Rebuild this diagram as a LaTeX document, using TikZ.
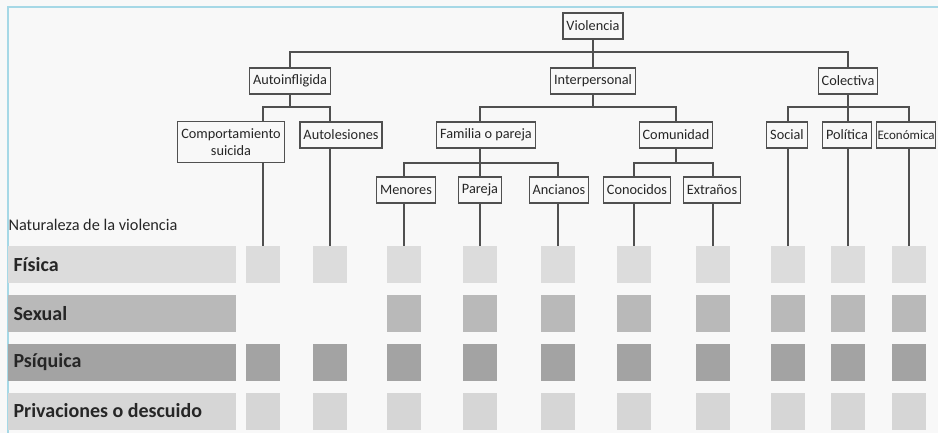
\documentclass[tikz,border=0pt]{standalone}
\usepackage{fontspec}
\setmainfont{Carlito}
\usetikzlibrary{calc}

\definecolor{bgc}{HTML}{F8F8F8}
\definecolor{framec}{HTML}{A6D8E6}
\definecolor{linec}{HTML}{505050}
\definecolor{textc}{HTML}{262626}
\definecolor{fisc}{HTML}{DCDCDC}
\definecolor{sexc}{HTML}{B9B9B9}
\definecolor{psic}{HTML}{A3A3A3}
\definecolor{pric}{HTML}{D6D6D6}

\tikzset{
  tbox/.style={draw=linec, fill=bgc, line width=1.1pt, inner xsep=3.5pt, inner ysep=0pt,
    minimum height=26pt, align=center, text=textc, font=\fontsize{14.3}{16.5}\selectfont},
  conn/.style={draw=linec, line width=1.3pt},
  sq/.style={minimum width=34pt, minimum height=37pt, inner sep=0pt},
  rowbar/.style={minimum width=228pt, minimum height=37pt, inner sep=0pt},
  rowlabel/.style={anchor=west, text=textc, font=\fontsize{20}{22}\selectfont\bfseries}
}

\begin{document}
\begin{tikzpicture}[x=1pt, y=-1pt]

    % frame
    \fill[bgc] (0,0) rectangle (938,433);
    \useasboundingbox (0,0) rectangle (938,433);
    \clip (0,0) rectangle (938,433);
    \draw[framec, line width=1.2pt] (8,433) -- (8,7) -- (940,7);

    % bar levels
    \coordinate (bar1) at (0,52);
    \coordinate (bar2) at (0,107);
    \coordinate (bar3) at (0,163);

    % tree nodes
    \node[tbox] (viol) at (593,26) {Violencia};
    \node[tbox] (auto) at (290,81) {Autoinfligida};
    \node[tbox] (inter) at (593,81) {Interpersonal};
    \node[tbox] (colec) at (848,81) {Colectiva};
    \node[tbox, minimum height=41pt] (comp) at (231,142) {Comportamiento\\suicida};
    \node[tbox] (autol) at (341,135) {Autolesiones};
    \node[tbox] (fam) at (486,135) {Familia o pareja};
    \node[tbox] (comu) at (676,135) {Comunidad};
    \node[tbox] (social) at (787,135) {Social};
    \node[tbox] (polit) at (847,135) {Política};
    \node[tbox, anchor=west, inner xsep=1pt, font=\fontsize{13}{14}\selectfont] (econ) at (876,135) {Económica};
    \node[tbox] (meno) at (406,190) {Menores};
    \node[tbox] (pare) at (480,190) {Pareja};
    \node[tbox] (anci) at (559,190) {Ancianos};
    \node[tbox] (cono) at (637,190) {Conocidos};
    \node[tbox] (extr) at (712,190) {Extraños};

    % row labels
    \node[anchor=west, text=textc, font=\fontsize{16.3}{17}\selectfont] (natu) at (5,225) {Naturaleza de la violencia};
    \node[rowbar, fill=fisc, anchor=west] (rfis) at (8,264.5) {};
    \node[rowbar, fill=sexc, anchor=west] (rsex) at (8,313.5) {};
    \node[rowbar, fill=psic, anchor=west] (rpsi) at (8,362) {};
    \node[rowbar, fill=pric, anchor=west] (rpri) at (8,411) {};
    \node[rowlabel] at ($(rfis.west)+(2,0)$) {Física};
    \node[rowlabel] at ($(rsex.west)+(2,0)$) {Sexual};
    \node[rowlabel] at ($(rpsi.west)+(2,0)$) {Psíquica};
    \node[rowlabel] at ($(rpri.west)+(2,0)$) {Privaciones o descuido};

    % squares
    \foreach \x [count=\i] in {263,330,404,480,558,634,713,788,848,909} {
      \node[sq, fill=fisc] (f\i) at (\x,264.5) {};
      \ifnum\i>2 \node[sq, fill=sexc] (s\i) at (\x,313.5) {}; \fi
      \node[sq, fill=psic] (p\i) at (\x,362) {};
      \node[sq, fill=pric] (d\i) at (\x,411) {};
    }

    % first level
    \draw[conn] (viol.south) -- (inter.north);
    \draw[conn] (auto.north) -- (auto.north |- bar1) -- (colec.north |- bar1) -- (colec.north);

    % autoinfligida
    \draw[conn] (auto.south) -- (auto.south |- bar2);
    \draw[conn] (f1.north |- comp.north) -- (f1.north |- bar2) -- (f2.north |- bar2) -- (f2.north |- autol.north);

    % interpersonal
    \draw[conn] (inter.south) -- (inter.south |- bar2);
    \draw[conn] (fam.north -| f4.north) -- (f4.north |- bar2) -- (comu.north |- bar2) -- (comu.north);
    \draw[conn] (fam.south -| f4.north) -- (pare.north);
    \draw[conn] (f3.north |- meno.north) -- (f3.north |- bar3) -- (f5.north |- bar3) -- (f5.north |- anci.north);
    \draw[conn] (comu.south) -- (comu.south |- bar3);
    \draw[conn] (f6.north |- cono.north) -- (f6.north |- bar3) -- (f7.north |- bar3) -- (f7.north |- extr.north);

    % colectiva
    \draw[conn] (colec.south) -- (polit.north -| colec.south);
    \draw[conn] (f8.north |- social.north) -- (f8.north |- bar2) -- (f10.north |- bar2) -- (f10.north |- econ.north);

    % down to the squares
    \draw[conn] (comp.south -| f1.north) -- (f1.north);
    \draw[conn] (autol.south -| f2.north) -- (f2.north);
    \draw[conn] (meno.south -| f3.north) -- (f3.north);
    \draw[conn] (pare.south -| f4.north) -- (f4.north);
    \draw[conn] (anci.south -| f5.north) -- (f5.north);
    \draw[conn] (cono.south -| f6.north) -- (f6.north);
    \draw[conn] (extr.south -| f7.north) -- (f7.north);
    \draw[conn] (social.south -| f8.north) -- (f8.north);
    \draw[conn] (polit.south -| f9.north) -- (f9.north);
    \draw[conn] (econ.south -| f10.north) -- (f10.north);

\end{tikzpicture}
\end{document}
